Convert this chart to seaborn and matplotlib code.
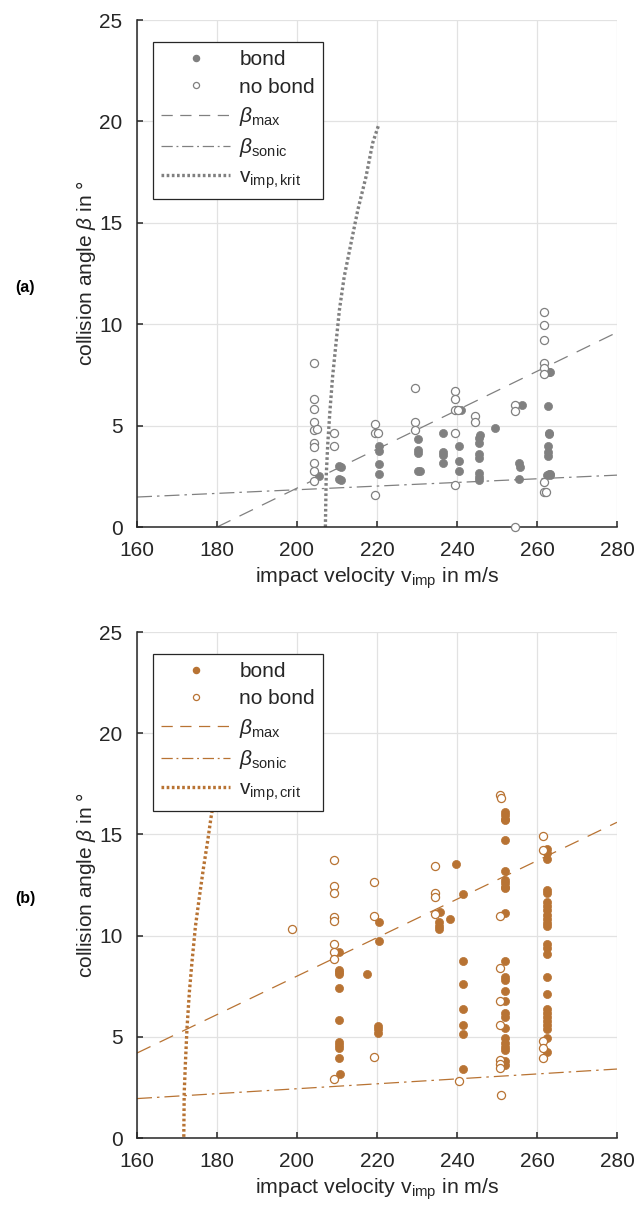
import numpy as np
import pandas as pd
import matplotlib
matplotlib.use("Agg")
import matplotlib.pyplot as plt
import seaborn as sns
from matplotlib.lines import Line2D

# ---------------- data (a) ----------------
a_bond_v = [205.6, 210.6, 211.0, 210.6, 211.0, 220.5, 220.5, 220.5, 220.5,
            230.3, 230.3, 230.3, 230.3, 230.8, 236.6, 236.6, 236.6, 236.6,
            241.0, 240.6, 240.6, 240.6, 245.8, 245.6, 245.6, 245.6, 245.6,
            245.6, 245.6, 245.6, 249.6, 256.2, 255.6, 255.8, 255.6,
            262.9, 263.2, 262.8, 262.9, 263.1, 262.8, 262.8, 262.8, 262.9,
            263.2, 263.3, 262.6]
a_bond_b = [2.51, 3.00, 2.95, 2.35, 2.32, 3.98, 3.76, 3.11, 2.61,
            4.32, 3.80, 3.63, 2.78, 2.78, 4.65, 3.71, 3.55, 3.14,
            5.77, 4.01, 3.27, 2.78, 4.54, 4.37, 4.16, 3.60, 3.39,
            2.65, 2.48, 2.32, 4.87, 6.02, 3.14, 2.97, 2.37,
            7.66, 7.66, 5.98, 4.63, 4.61, 4.01, 3.71, 3.50, 2.61,
            2.61, 2.55, 2.55]
a_nobond_v = [204.3, 204.3, 204.3, 204.3, 204.3, 205.0, 204.3, 204.3, 204.3,
              204.3, 204.3, 209.3, 209.3, 219.6, 219.6, 220.2, 219.6,
              229.5, 229.5, 229.5, 239.6, 239.6, 239.6, 240.2, 239.6, 239.6,
              244.6, 244.6, 254.6, 254.6, 254.6,
              261.7, 261.7, 261.7, 261.7, 261.7, 261.7, 261.7, 261.7, 262.3]
a_nobond_b = [8.07, 6.31, 5.80, 5.16, 4.78, 4.82, 4.13, 3.96, 3.14,
              2.76, 2.27, 4.65, 3.99, 5.08, 4.65, 4.65, 1.58,
              6.87, 5.18, 4.78, 6.72, 6.30, 5.77, 5.77, 4.65, 2.07,
              5.49, 5.16, 6.02, 5.74, 0.0,
              10.62, 9.96, 9.22, 8.10, 7.86, 7.54, 2.23, 1.71, 1.75]
a_max_v = [180, 280]
a_max_b = [0.0, 9.6]
a_sonic_v = [160, 280]
a_sonic_b = [1.48, 2.56]
a_crit_v = [207.1, 207.3, 207.7, 208.25, 208.9, 209.75, 210.6, 211.8,
            213.5, 215.2, 217.25, 218.9, 220.4]
a_crit_b = [0.0, 2.48, 4.13, 5.77, 7.41, 9.06, 10.70, 12.34,
            13.99, 15.63, 17.27, 18.92, 19.82]

# ---------------- data (b) ----------------
b_bond_v = [210.6, 210.6, 210.6, 210.6, 210.6, 210.6, 210.6, 210.6, 210.6,
            210.6, 210.8, 217.6, 220.4, 220.4, 220.3, 220.3, 220.3,
            235.7, 235.5, 235.5, 235.5, 238.3, 239.75, 241.4, 241.4, 241.4,
            241.4, 241.4, 241.4, 241.4] + [251.9] * 25 + [262.5] * 25
b_bond_b = [9.17, 8.30, 8.19, 8.09, 7.43, 5.83, 4.76, 4.59, 4.43,
            3.97, 3.15, 8.10, 10.69, 9.75, 5.55, 5.37, 5.17,
            11.18, 10.66, 10.49, 10.31, 10.80, 13.52, 12.06, 8.75, 7.59,
            6.36, 5.58, 5.14, 3.39,
            16.12, 15.95, 15.78, 15.70, 14.72, 13.19, 12.75, 12.58, 12.42,
            12.34, 11.10, 8.75, 7.97, 7.81, 7.26, 6.79, 6.16, 5.99, 5.45,
            4.96, 4.68, 4.51, 4.35, 3.80, 3.61,
            14.26, 14.07, 13.77, 12.25, 12.09, 11.68, 11.46, 11.27, 11.02,
            10.80, 10.61, 10.47, 9.58, 9.37, 9.09, 7.97, 7.10, 6.36, 6.16,
            5.99, 5.80, 5.58, 5.37, 4.96, 4.27]
b_nobond_v = [198.75, 209.3, 209.3, 209.3, 209.3, 209.3, 209.3, 209.3, 209.3,
              209.3, 219.3, 219.3, 219.3, 234.6, 234.6, 234.6, 234.6, 240.4,
              250.8, 251.0, 250.8, 250.8, 250.8, 250.8, 250.8, 250.8, 250.8,
              251.0, 261.4, 261.4, 261.4, 261.4, 261.4]
b_nobond_b = [10.33, 13.73, 12.45, 12.12, 10.93, 10.74, 9.58, 9.21, 8.84,
              2.90, 12.66, 10.98, 3.99, 13.44, 12.09, 11.92, 11.05, 2.83,
              16.95, 16.78, 10.98, 8.41, 6.79, 5.58, 3.85, 3.64, 3.44,
              2.12, 14.92, 14.23, 4.79, 4.46, 3.94]
b_max_v = [160, 280]
b_max_b = [4.2, 15.6]
b_sonic_v = [160, 280]
b_sonic_b = [1.95, 3.41]
b_crit_v = [171.7, 171.8, 172.1, 172.5, 173.1, 173.75, 174.6, 175.6,
            176.6, 177.7, 178.5, 179.5]
b_crit_b = [0.06, 2.21, 3.69, 5.42, 7.23, 8.71, 10.44, 11.92,
            13.32, 14.72, 15.83, 17.0]

sns.set_theme(style="whitegrid")
plt.rcParams["font.family"] = ["Liberation Sans", "DejaVu Sans"]
plt.rcParams["mathtext.fontset"] = "custom"
plt.rcParams["mathtext.rm"] = "Liberation Sans"
plt.rcParams["mathtext.it"] = "Liberation Sans:italic"
plt.rcParams["mathtext.bf"] = "Liberation Sans:bold"

dark = "#262626"

fig = plt.figure(figsize=(6.36, 12.08), dpi=100)
ax_a = fig.add_axes([0.2154, 0.5637, 0.7547, 0.4197])
ax_b = fig.add_axes([0.2154, 0.0579, 0.7547, 0.4189])


def panel(ax, col, bv, bb, nv, nb, mv, mb, sv, sb, cv, cb, crit_name, tag, ytag):
    sns.lineplot(x=mv, y=mb, ax=ax, color=col, lw=0.9,
                 estimator=None, sort=False, zorder=2).lines[-1].set_linestyle((0, (12, 8)))
    sns.lineplot(x=sv, y=sb, ax=ax, color=col, lw=0.9,
                 estimator=None, sort=False, zorder=2).lines[-1].set_linestyle((0, (12, 4, 2, 4)))
    sns.lineplot(x=cv, y=cb, ax=ax, color=col, lw=2.4,
                 estimator=None, sort=False, zorder=2).lines[-1].set_linestyle((0, (0.8, 0.75)))
    sns.scatterplot(x=bv, y=bb, ax=ax, color=col, s=34, edgecolor=col,
                    linewidth=0.5, zorder=3, clip_on=False)
    sns.scatterplot(x=nv, y=nb, ax=ax, facecolor="white", edgecolor=col,
                    s=34, linewidth=0.9, zorder=3, clip_on=False)

    ax.set_xlim(160, 280)
    ax.set_ylim(0, 25)
    ax.set_xticks(np.arange(160, 281, 20))
    ax.set_yticks(np.arange(0, 26, 5))
    ax.grid(True, color="#e2e2e2", lw=0.9)
    for s in ["top", "right"]:
        ax.spines[s].set_visible(False)
    for s in ["left", "bottom"]:
        ax.spines[s].set_visible(True)
        ax.spines[s].set_color(dark)
        ax.spines[s].set_linewidth(1.1)
    ax.tick_params(direction="in", length=4, width=1.1, color=dark,
                   labelsize=15, labelcolor=dark, bottom=True, left=True)
    ax.tick_params(axis="x", pad=10)
    ax.tick_params(axis="y", pad=10.5)
    ax.set_xlabel("impact velocity v$_\\mathregular{imp}$ in m/s", fontsize=15.3,
                  color=dark, labelpad=4)
    ax.set_ylabel("collision angle $\\beta$ in °", fontsize=15, color=dark,
                  labelpad=1)

    handles = [
        Line2D([], [], ls="none", marker="o", ms=4.4, color=col),
        Line2D([], [], ls="none", marker="o", ms=4.4, mfc="white", mec=col, mew=0.9),
        Line2D([], [], color=col, lw=0.9, ls=(0, (9, 6))),
        Line2D([], [], color=col, lw=0.9, ls=(0, (9, 3, 1.5, 3))),
        Line2D([], [], color=col, lw=2.4, ls=(0, (0.8, 0.75))),
    ]
    labels = ["bond", "no bond", "$\\beta_\\mathregular{max}$",
              "$\\beta_\\mathregular{sonic}$", crit_name]
    leg = ax.legend(handles, labels, loc="upper left", bbox_to_anchor=(0.033, 0.957),
                    borderaxespad=0, fontsize=15, handlelength=3.3, handletextpad=0.45,
                    labelspacing=0.4, fancybox=False, framealpha=1,
                    edgecolor=dark, borderpad=0.4)
    leg.get_frame().set_linewidth(0.9)
    leg.set_zorder(5)
    for t in leg.get_texts():
        t.set_color(dark)
    fig.text(0.024, ytag, tag, fontsize=11.5, fontweight="bold", color="black",
             va="center", ha="left")


panel(ax_a, "#808080", a_bond_v, a_bond_b, a_nobond_v, a_nobond_b,
      a_max_v, a_max_b, a_sonic_v, a_sonic_b, a_crit_v, a_crit_b,
      "v$_\\mathregular{imp,krit}$", "(a)", 0.7616)
panel(ax_b, "#b87333", b_bond_v, b_bond_b, b_nobond_v, b_nobond_b,
      b_max_v, b_max_b, b_sonic_v, b_sonic_b, b_crit_v, b_crit_b,
      "v$_\\mathregular{imp,crit}$", "(b)", 0.2566)

fig.savefig("out.png", dpi=100)
